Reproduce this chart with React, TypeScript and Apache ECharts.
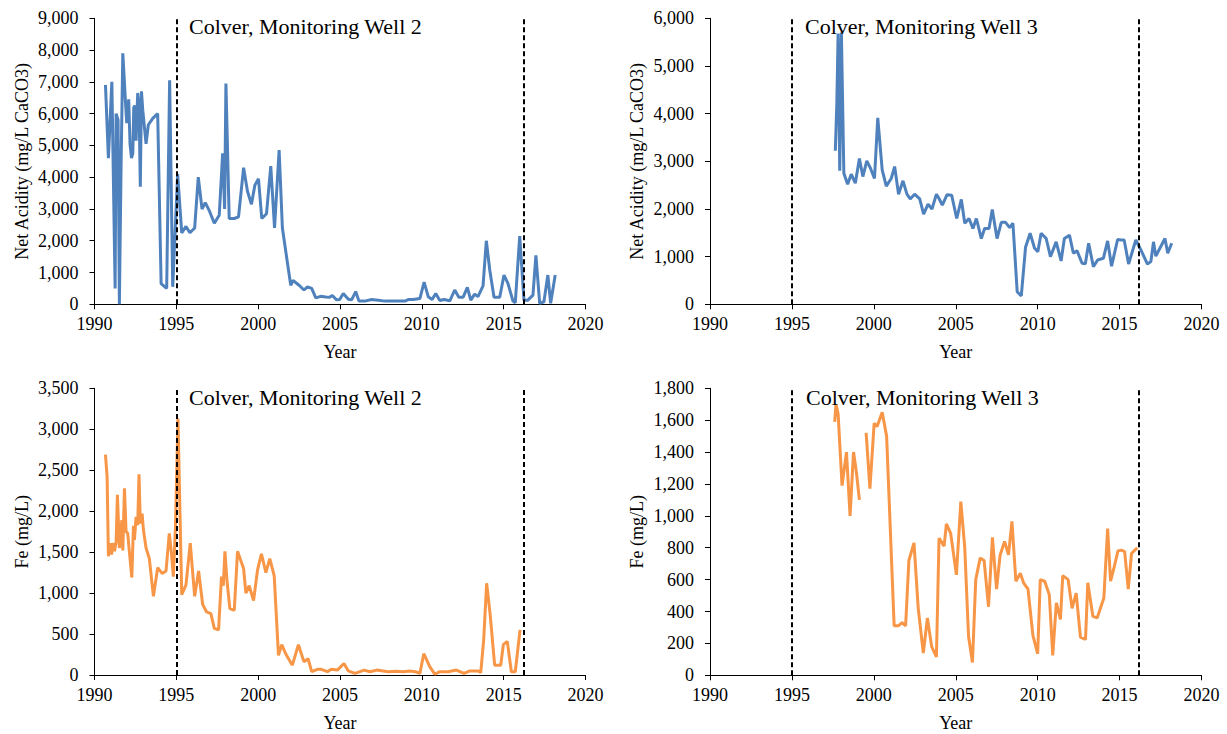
import { useEffect, useRef } from "react";
import * as echarts from "echarts";

const BLUE = "#4F81BD";
const ORANGE = "#F79646";
const FONT = "Liberation Serif";

// Years at which treatment changed (dashed reference lines)
const referenceYears = [1995, 2016.2];

// Monitoring Well 2 — net acidity (mg/L CaCO3)
const mw2AcidityYears = [
  1990.67, 1990.85, 1991.06, 1991.26, 1991.32, 1991.44, 1991.52, 1991.63, 1991.73, 1991.89,
  1991.97, 1992.09, 1992.17, 1992.26, 1992.34, 1992.4, 1992.48, 1992.54, 1992.64, 1992.72,
  1992.8, 1992.87, 1992.95, 1993.15, 1993.29, 1993.56, 1993.86, 1994.07, 1994.41, 1994.59,
  1994.78, 1995.08, 1995.33, 1995.59, 1995.83, 1996.12, 1996.34, 1996.57, 1996.77, 1997.01,
  1997.32, 1997.62, 1997.83, 1997.95, 1998.03, 1998.23, 1998.54, 1998.8, 1999.11, 1999.35,
  1999.59, 1999.8, 2000.02, 2000.22, 2000.51, 2000.77, 2001.0, 2001.28, 2001.48, 2001.79,
  2001.99, 2002.13, 2002.5, 2002.8, 2003.01, 2003.27, 2003.52, 2003.82, 2004.13, 2004.37,
  2004.53, 2004.78, 2004.98, 2005.2, 2005.51, 2005.71, 2005.96, 2006.16, 2006.52, 2006.93,
  2007.34, 2007.74, 2008.15, 2008.56, 2008.96, 2009.17, 2009.47, 2009.88, 2010.14, 2010.39,
  2010.63, 2010.85, 2011.1, 2011.36, 2011.71, 2012.01, 2012.26, 2012.52, 2012.78, 2012.99,
  2013.23, 2013.43, 2013.74, 2013.94, 2014.15, 2014.41, 2014.76, 2015.02, 2015.26, 2015.57,
  2015.71, 2015.98, 2016.24, 2016.48, 2016.79, 2016.97, 2017.2, 2017.46, 2017.7, 2017.87,
  2018.15,
];
const mw2AcidityValues = [
  6900, 4600, 7000, 500, 6000, 5800, 0, 4600, 7900, 6400,
  5700, 6450, 5050, 4600, 4750, 6200, 6250, 5150, 6650, 6300,
  3700, 6700, 6100, 5050, 5650, 5850, 6000, 650, 500, 7050,
  550, 4100, 2250, 2450, 2250, 2400, 4000, 3000, 3200, 2950,
  2550, 2800, 4750, 3000, 6950, 2700, 2700, 2750, 4300, 3550,
  3150, 3750, 3950, 2700, 2850, 4350, 2400, 4850, 2400, 1300,
  600, 750, 600, 450, 550, 500, 200, 250, 230, 220,
  280, 140, 150, 340, 160, 140, 400, 100, 100, 150,
  130, 100, 100, 100, 100, 150, 150, 180, 700, 240,
  150, 340, 120, 150, 110, 450, 220, 220, 530, 130,
  320, 240, 580, 2000, 1080, 220, 220, 920, 660, 100,
  50, 2150, 130, 130, 290, 1540, 30, 80, 920, 30,
  920,
];

// Monitoring Well 3 — net acidity (mg/L CaCO3)
const mw3AcidityYears = [
  1997.65, 1997.74, 1997.82, 1997.92, 1998.02, 1998.17, 1998.4, 1998.62, 1998.87, 1999.12,
  1999.33, 1999.57, 1999.8, 2000.04, 2000.24, 2000.51, 2000.76, 2001.06, 2001.27, 2001.51,
  2001.78, 2002.02, 2002.22, 2002.49, 2002.8, 2003.04, 2003.31, 2003.55, 2003.82, 2003.98,
  2004.18, 2004.47, 2004.75, 2005.06, 2005.34, 2005.55, 2005.81, 2006.05, 2006.26, 2006.56,
  2006.76, 2007.03, 2007.23, 2007.52, 2007.78, 2008.04, 2008.29, 2008.49, 2008.75, 2009.0,
  2009.26, 2009.54, 2009.81, 2010.01, 2010.21, 2010.52, 2010.78, 2011.13, 2011.43, 2011.63,
  2011.94, 2012.18, 2012.4, 2012.71, 2012.91, 2013.11, 2013.4, 2013.66, 2014.01, 2014.27,
  2014.51, 2014.88, 2015.08, 2015.28, 2015.55, 2015.99, 2016.3, 2016.7, 2016.91, 2017.07,
  2017.21, 2017.46, 2017.77, 2017.94, 2018.18,
];
const mw3AcidityValues = [
  3220, 4200, 5680, 2800, 5700, 2750, 2520, 2730, 2540, 3060,
  2680, 3010, 2850, 2640, 3910, 2820, 2480, 2640, 2890, 2310,
  2590, 2310, 2210, 2310, 2210, 1890, 2100, 2000, 2310, 2220,
  2080, 2300, 2290, 1800, 2200, 1700, 1800, 1590, 1800, 1380,
  1590, 1590, 1990, 1380, 1720, 1720, 1610, 1700, 265, 175,
  1195, 1490, 1175, 1105, 1490, 1380, 1000, 1310, 910, 1380,
  1450, 1070, 1125, 860, 850, 1280, 790, 930, 965, 1330,
  800, 1360, 1350, 1350, 845, 1350, 1140, 845, 895, 1310,
  1010, 1175, 1380, 1070, 1280,
];

// Monitoring Well 2 — iron (mg/L)
const mw2IronYears = [
  1990.67, 1990.77, 1990.85, 1990.96, 1991.04, 1991.12, 1991.22, 1991.32, 1991.4, 1991.52,
  1991.67, 1991.73, 1991.83, 1991.93, 1992.03, 1992.13, 1992.28, 1992.38, 1992.44, 1992.54,
  1992.64, 1992.72, 1992.8, 1992.91, 1992.99, 1993.15, 1993.35, 1993.6, 1993.86, 1994.13,
  1994.37, 1994.57, 1994.7, 1994.82, 1994.94, 1995.1, 1995.33, 1995.59, 1995.85, 1996.12,
  1996.36, 1996.61, 1996.85, 1997.11, 1997.32, 1997.58, 1997.76, 1997.87, 1997.97, 1998.09,
  1998.27, 1998.54, 1998.74, 1998.9, 1999.11, 1999.25, 1999.45, 1999.72, 1999.96, 2000.2,
  2000.47, 2000.71, 2000.98, 2001.24, 2001.44, 2001.73, 2002.09, 2002.46, 2002.8, 2003.05,
  2003.27, 2003.62, 2003.86, 2004.23, 2004.47, 2004.84, 2005.24, 2005.51, 2005.91, 2006.48,
  2006.83, 2007.24, 2007.64, 2007.95, 2008.46, 2008.86, 2009.27, 2009.61, 2009.88, 2010.12,
  2010.49, 2010.79, 2011.1, 2011.61, 2012.11, 2012.58, 2012.93, 2013.43, 2013.6, 2013.78,
  2013.96, 2014.17, 2014.45, 2014.82, 2014.98, 2015.22, 2015.47, 2015.71, 2016.0,
];
const mw2IronValues = [
  2690, 2420, 1450, 1610, 1470, 1610, 1510, 1620, 2200, 1550,
  1890, 1520, 2280, 1750, 1730, 1510, 1190, 1820, 1650, 1930,
  1830, 2450, 1850, 1970, 1770, 1550, 1420, 960, 1310, 1240,
  1270, 1730, 1490, 1200, 1770, 3130, 980, 1100, 1610, 960,
  1270, 860, 770, 750, 570, 550, 1200, 1090, 1510, 1160,
  810, 790, 1510, 1420, 1300, 1000, 1090, 910, 1280, 1480,
  1250, 1420, 1210, 240, 370, 240, 120, 370, 160, 200,
  40, 70, 70, 40, 70, 60, 140, 50, 20, 60,
  40, 60, 50, 40, 45, 40, 50, 40, 20, 260,
  100, 10, 40, 40, 60, 20, 50, 50, 30, 430,
  1120, 750, 120, 120, 370, 410, 40, 40, 550,
];

// Monitoring Well 3 — iron (mg/L); null marks a gap in sampling
const mw3IronYears = [
  1997.61, 1997.69, 1997.82, 1998.06, 1998.33, 1998.55, 1998.76, 1998.94, 1999.12, 1999.3,
  1999.53, 1999.76, 2000.02, 2000.2, 2000.51, 2000.78, 2001.24, 2001.49, 2001.73, 2001.94,
  2002.14, 2002.45, 2002.71, 2003.02, 2003.27, 2003.53, 2003.82, 2003.98, 2004.29, 2004.43,
  2004.69, 2005.04, 2005.31, 2005.55, 2005.78, 2006.02, 2006.22, 2006.49, 2006.73, 2007.0,
  2007.24, 2007.49, 2007.71, 2007.98, 2008.22, 2008.43, 2008.67, 2008.94, 2009.14, 2009.41,
  2009.71, 2010.0, 2010.16, 2010.43, 2010.71, 2010.92, 2011.14, 2011.39, 2011.53, 2011.86,
  2012.1, 2012.35, 2012.61, 2012.92, 2013.06, 2013.37, 2013.63, 2014.04, 2014.27, 2014.45,
  2014.65, 2014.9, 2015.1, 2015.31, 2015.53, 2015.73, 2016.08,
];
const mw3IronValues: (number | null)[] = [
  1590, 1700, 1640, 1190, 1400, 1000, 1400, 1270, 1100, null,
  1520, 1170, 1580, 1560, 1650, 1500, 310, 310, 330, 310,
  720, 830, 420, 140, 360, 180, 115, 860, 810, 950,
  890, 630, 1090, 800, 245, 80, 600, 735, 720, 430,
  865, 540, 755, 840, 755, 965, 590, 640, 580, 540,
  250, 135, 600, 590, 505, 125, 455, 350, 625, 600,
  420, 515, 240, 225, 580, 370, 360, 485, 920, 590,
  670, 780, 785, 775, 540, 765, 800,
];

const panelTitles = [
  "Colver, Monitoring Well 2",
  "Colver, Monitoring Well 3",
  "Colver, Monitoring Well 2",
  "Colver, Monitoring Well 3",
];
const yAxisNames = [
  "Net Acidity (mg/L CaCO3)",
  "Net Acidity (mg/L CaCO3)",
  "Fe (mg/L)",
  "Fe (mg/L)",
];
const yMax = [9000, 6000, 3500, 1800];
const yStep = [1000, 1000, 500, 200];

function toPairs(xs: number[], ys: (number | null)[]) {
  return xs.map((x, i) => [x, ys[i] == null ? "-" : ys[i]]);
}

const seriesData = [
  toPairs(mw2AcidityYears, mw2AcidityValues),
  toPairs(mw3AcidityYears, mw3AcidityValues),
  toPairs(mw2IronYears, mw2IronValues),
  toPairs(mw3IronYears, mw3IronValues),
];
const seriesColors = [BLUE, BLUE, ORANGE, ORANGE];

const grids = [
  { left: 94.5, top: 18.3, width: 491, height: 286 },
  { left: 710, top: 18.3, width: 491.5, height: 286 },
  { left: 94.5, top: 388.3, width: 491, height: 286.7 },
  { left: 710, top: 388.3, width: 491.5, height: 287 },
];
const titlePos = [
  [189, 26],
  [805, 26],
  [189, 397],
  [806, 397],
];

export default function App() {
  const ref = useRef<HTMLDivElement>(null);

  useEffect(() => {
    if (!ref.current) return;
    const chart = echarts.init(ref.current, null, { renderer: "svg" });

    const axisLine = { show: true, lineStyle: { color: "#000", width: 1 } };
    const axisTick = { show: true, inside: false, length: 5, lineStyle: { color: "#000", width: 1 } };

    const option: echarts.EChartsOption = {
      animation: false,
      backgroundColor: "#fff",
      textStyle: { fontFamily: FONT },
      grid: grids.map((g) => ({ ...g, containLabel: false })),
      xAxis: grids.map((_, i) => ({
        type: "value",
        gridIndex: i,
        min: 1990,
        max: 2020,
        interval: 5,
        name: "Year",
        nameLocation: "middle",
        nameGap: 39,
        nameTextStyle: { fontFamily: FONT, fontSize: 18, color: "#000" },
        axisLine,
        axisTick,
        splitLine: { show: false },
        axisLabel: {
          fontFamily: FONT,
          fontSize: 18,
          color: "#000",
          margin: 11,
          formatter: (v: number) => String(v),
        },
      })),
      yAxis: grids.map((_, i) => ({
        type: "value",
        gridIndex: i,
        min: 0,
        max: yMax[i],
        interval: yStep[i],
        name: yAxisNames[i],
        nameLocation: "middle",
        nameGap: 64,
        nameTextStyle: { fontFamily: FONT, fontSize: 18, color: "#000" },
        axisLine,
        axisTick,
        splitLine: { show: false },
        axisLabel: {
          fontFamily: FONT,
          fontSize: 18,
          color: "#000",
          margin: 16,
          formatter: (v: number) => v.toLocaleString("en-US"),
        },
      })),
      series: seriesData.map((data, i) => ({
        type: "line",
        xAxisIndex: i,
        yAxisIndex: i,
        data,
        showSymbol: false,
        connectNulls: false,
        lineStyle: { color: seriesColors[i], width: 3 },
        itemStyle: { color: seriesColors[i] },
        markLine: {
          silent: true,
          symbol: ["none", "none"],
          label: { show: false },
          lineStyle: { color: "#000", type: [5, 3], width: 2 },
          data: referenceYears.map((y) => ({ xAxis: y })),
        },
      })),
      graphic: panelTitles.map((t, i) => ({
        type: "text",
        x: titlePos[i][0],
        y: titlePos[i][1],
        z: 10,
        style: {
          text: t,
          fontFamily: FONT,
          fontSize: 22,
          fill: "#000",
          textVerticalAlign: "middle",
        },
      })),
    };

    chart.setOption(option);
    return () => chart.dispose();
  }, []);

  return (
    <div
      ref={ref}
      style={{ position: "fixed", left: 0, top: 0, width: 1227, height: 734, background: "#fff" }}
    />
  );
}
